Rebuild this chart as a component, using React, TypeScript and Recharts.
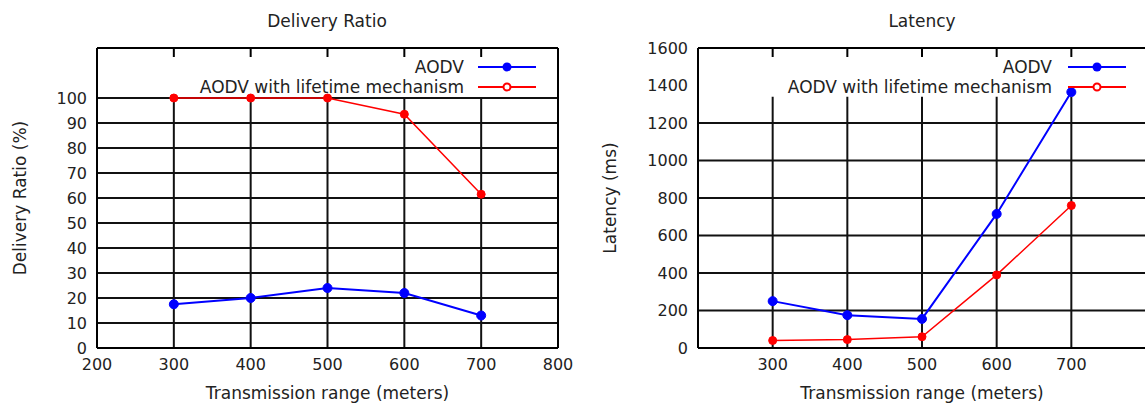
import { LineChart, Line, XAxis, YAxis, ReferenceLine } from "recharts";

// transmission range (meters)
const ranges = [300, 400, 500, 600, 700];

// delivery ratio (%)
const ratioAodv = [17.5, 20, 24, 22, 13];
const ratioLifetime = [100, 100, 100, 93.5, 61.5];

// latency (ms)
const latencyAodv = [250, 175, 155, 715, 1365];
const latencyLifetime = [40, 45, 60, 390, 760];

const seriesNames = ["AODV", "AODV with lifetime mechanism"];
const seriesColors = ["#0000ff", "#ff0000"];

const ratioXTicks = [200, 300, 400, 500, 600, 700, 800];
const latencyXTicks = [300, 400, 500, 600, 700];
const xGrid = [300, 400, 500, 600, 700];

const ratioTicks = [0, 10, 20, 30, 40, 50, 60, 70, 80, 90, 100];
const ratioGrid = [10, 20, 30, 40, 50, 60, 70, 80, 90, 100];
const latencyTicks = [0, 200, 400, 600, 800, 1000, 1200, 1400, 1600];
const latencyGrid = [200, 400, 600, 800, 1000, 1200];
const latencyStub = [1400];

const FONT = "'DejaVu Sans', Verdana, sans-serif";
const INK = "#222";
const GRID = "#111";

const ratioData = ranges.map((x, i) => ({ x, aodv: ratioAodv[i], lifetime: ratioLifetime[i] }));
const latencyData = ranges.map((x, i) => ({ x, aodv: latencyAodv[i], lifetime: latencyLifetime[i] }));

const noTick = () => <g />;

interface PanelProps {
  data: { x: number; aodv: number; lifetime: number }[];
  width: number;
  marginRight: number;
  yWidth: number;
  yDomain: [number, number];
  yTicks: number[];
  yGrid: number[];
  gridTop: number;
  xTicks: number[];
  stubs: number[];
  yLabel: string;
}

function Panel({ data, width, marginRight, yWidth, yDomain, yTicks, yGrid, gridTop, xTicks, stubs, yLabel }: PanelProps) {
  const tickStyle = { fontSize: 16, fill: INK, fontFamily: FONT };
  const frame = { stroke: "#000", strokeWidth: 2 };
  const hasStubs = stubs.length > 0;
  return (
    <LineChart width={width} height={405} data={data} margin={{ top: 48, right: marginRight, bottom: 0, left: 0 }}>
      <XAxis
        xAxisId="b"
        dataKey="x"
        type="number"
        domain={[200, 800]}
        ticks={xTicks}
        height={57}
        axisLine={frame}
        tickLine={false}
        tickSize={0}
        tickMargin={11}
        tick={tickStyle}
        label={{ value: "Transmission range (meters)", position: "insideBottom", offset: 6, fill: INK, fontSize: 17, fontFamily: FONT }}
      />
      <XAxis
        xAxisId="t"
        orientation="top"
        mirror
        type="number"
        dataKey="x"
        domain={[200, 800]}
        ticks={xGrid}
        axisLine={frame}
        tickLine={frame}
        tickSize={9}
        tick={noTick}
      />
      <YAxis
        yAxisId="l"
        type="number"
        domain={yDomain}
        ticks={yTicks}
        width={yWidth}
        axisLine={frame}
        tickLine={false}
        tickSize={0}
        tickMargin={10}
        tick={tickStyle}
        label={{ value: yLabel, angle: -90, position: "insideLeft", offset: 20, fill: INK, fontSize: 17, fontFamily: FONT, style: { textAnchor: "middle" } }}
      />
      <YAxis
        yAxisId="lm"
        type="number"
        domain={yDomain}
        ticks={hasStubs ? stubs : yTicks}
        mirror
        axisLine={false}
        tickLine={hasStubs ? frame : false}
        tickSize={13}
        tick={noTick}
      />
      <YAxis
        yAxisId="rm"
        orientation="right"
        type="number"
        domain={yDomain}
        ticks={hasStubs ? stubs : yTicks}
        mirror
        axisLine={frame}
        tickLine={hasStubs ? frame : false}
        tickSize={11}
        tick={noTick}
      />
      {yGrid.map((v) => (
        <ReferenceLine key={"h" + v} xAxisId="b" yAxisId="l" y={v} stroke={GRID} strokeWidth={2} />
      ))}
      {xGrid.map((v) => (
        <ReferenceLine
          key={"v" + v}
          xAxisId="b"
          yAxisId="l"
          segment={[{ x: v, y: 0 }, { x: v, y: gridTop }]}
          stroke={GRID}
          strokeWidth={2}
        />
      ))}
      <Line
        xAxisId="b"
        yAxisId="l"
        type="linear"
        dataKey="aodv"
        name={seriesNames[0]}
        stroke={seriesColors[0]}
        strokeWidth={2}
        dot={{ r: 4.5, fill: seriesColors[0], stroke: seriesColors[0], strokeWidth: 1 }}
        isAnimationActive={false}
      />
      <Line
        xAxisId="b"
        yAxisId="l"
        type="linear"
        dataKey="lifetime"
        name={seriesNames[1]}
        stroke={seriesColors[1]}
        strokeWidth={1.5}
        dot={{ r: 4, fill: seriesColors[1], stroke: seriesColors[1], strokeWidth: 1 }}
        isAnimationActive={false}
      />
    </LineChart>
  );
}

function KeyBlock({ textRight, lineX1, lineX2 }: { textRight: number; lineX1: number; lineX2: number }) {
  const mid = (lineX1 + lineX2) / 2;
  return (
    <g>
      {seriesNames.map((name, i) => {
        const y = 67 + i * 20;
        return (
          <g key={name}>
            <text x={textRight} y={y + 6} textAnchor="end" fontSize={17} fill={INK} fontFamily={FONT}>
              {name}
            </text>
            <line x1={lineX1} x2={lineX2} y1={y} y2={y} stroke={seriesColors[i]} strokeWidth={2} />
            {i === 0 ? (
              <circle cx={mid} cy={y} r={4.5} fill={seriesColors[i]} />
            ) : (
              <circle cx={mid} cy={y} r={3.5} fill="#fff" stroke={seriesColors[i]} strokeWidth={2} />
            )}
          </g>
        );
      })}
    </g>
  );
}

export default function App() {
  return (
    <div style={{ position: "absolute", left: 0, top: 0, width: 1145, height: 405, overflow: "hidden", background: "#fff", fontFamily: FONT }}>
      <div style={{ position: "absolute", left: 0, top: 0 }}>
        <Panel
          data={ratioData}
          width={580}
          marginRight={22}
          yWidth={97}
          yDomain={[0, 120]}
          yTicks={ratioTicks}
          yGrid={ratioGrid}
          gridTop={100}
          xTicks={ratioXTicks}
          stubs={[]}
          yLabel="Delivery Ratio (%)"
        />
      </div>
      <div style={{ position: "absolute", left: 590, top: 0 }}>
        <Panel
          data={latencyData}
          width={558}
          marginRight={2}
          yWidth={108}
          yDomain={[0, 1600]}
          yTicks={latencyTicks}
          yGrid={latencyGrid}
          gridTop={1340}
          xTicks={latencyXTicks}
          stubs={latencyStub}
          yLabel="Latency (ms)"
        />
      </div>
      <svg width={1145} height={405} style={{ position: "absolute", left: 0, top: 0, pointerEvents: "none" }}>
        <text x={327} y={27} textAnchor="middle" fontSize={17} fill={INK} fontFamily={FONT}>
          Delivery Ratio
        </text>
        <text x={922} y={27} textAnchor="middle" fontSize={17} fill={INK} fontFamily={FONT}>
          Latency
        </text>
        <KeyBlock textRight={464} lineX1={478} lineX2={536} />
        <KeyBlock textRight={1052} lineX1={1068} lineX2={1126} />
      </svg>
    </div>
  );
}
